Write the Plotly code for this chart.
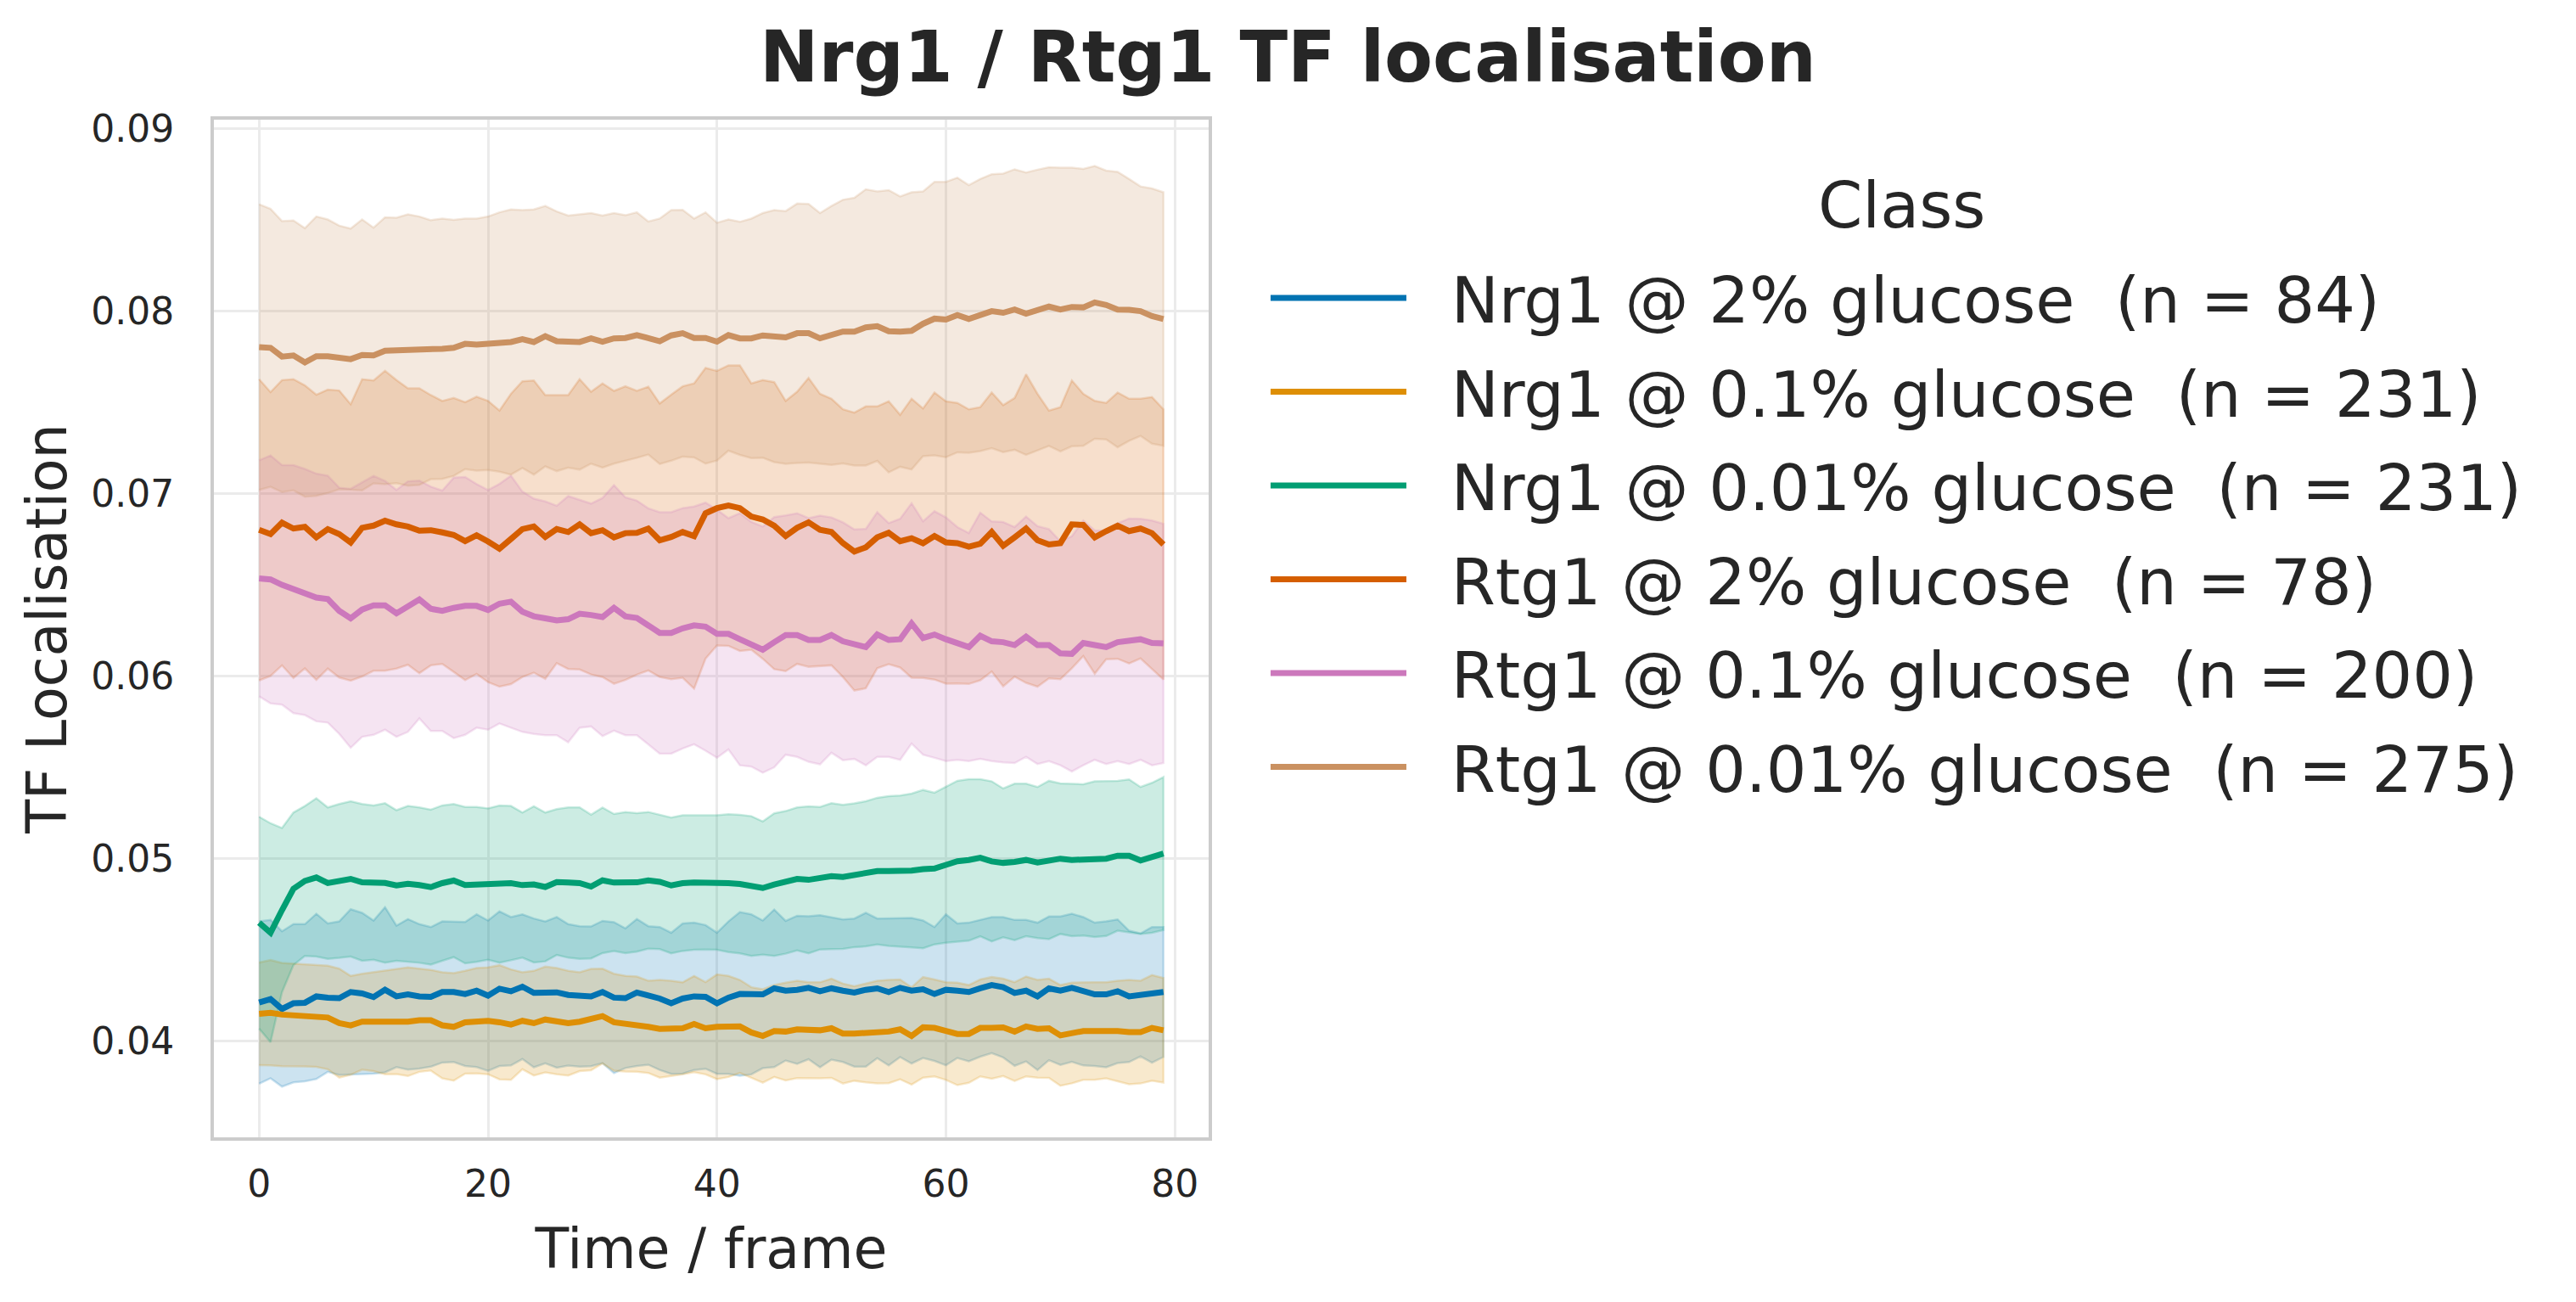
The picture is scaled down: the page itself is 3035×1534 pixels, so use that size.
import plotly.graph_objects as go

frames = list(range(80))

labels = [
    "Nrg1 @ 2% glucose\u00a0 (n = 84)",
    "Nrg1 @ 0.1% glucose\u00a0 (n = 231)",
    "Nrg1 @ 0.01% glucose\u00a0 (n = 231)",
    "Rtg1 @ 2% glucose\u00a0 (n = 78)",
    "Rtg1 @ 0.1% glucose\u00a0 (n = 200)",
    "Rtg1 @ 0.01% glucose\u00a0 (n = 275)",
]
legend_title = "Class"
colors = [(1, 115, 178), (222, 143, 5), (2, 158, 115), (213, 94, 0), (204, 120, 188), (202, 145, 97)]

# ---- Nrg1 @ 2% glucose (mean and upper edge of the +/- sd band)
nrg1_2_mean = [0.04209, 0.04228, 0.04174, 0.04205, 0.04208, 0.04243, 0.04236, 0.04233, 0.04267, 0.04259,
               0.04239, 0.04279, 0.04243, 0.04254, 0.04243, 0.04240, 0.04267, 0.04267, 0.04256, 0.04274,
               0.04247, 0.04285, 0.04271, 0.04296, 0.04262, 0.04265, 0.04265, 0.04251, 0.04243, 0.04243,
               0.04267, 0.04236, 0.04233, 0.04264, 0.04248, 0.04231, 0.04205, 0.04231, 0.04243, 0.04240,
               0.04205, 0.04236, 0.04256, 0.04254, 0.04254, 0.04287, 0.04274, 0.04279, 0.04290, 0.04271,
               0.04287, 0.04274, 0.04264, 0.04279, 0.04287, 0.04267, 0.04290, 0.04274, 0.04282, 0.04256,
               0.04279, 0.04274, 0.04267, 0.04287, 0.04305, 0.04293, 0.04262, 0.04274, 0.04243, 0.04287,
               0.04274, 0.04290, 0.04271, 0.04254, 0.04254, 0.04271, 0.04243, 0.04251, 0.04251, 0.04267]
nrg1_2_upper = [0.04654, 0.04662, 0.04600, 0.04639, 0.04639, 0.04696, 0.04643, 0.04654, 0.04721, 0.04701,
                0.04659, 0.04732, 0.04631, 0.04667, 0.04639, 0.04623, 0.04654, 0.04651, 0.04651, 0.04693,
                0.04659, 0.04709, 0.04678, 0.04693, 0.04670, 0.04654, 0.04678, 0.04639, 0.04628, 0.04626,
                0.04657, 0.04650, 0.04616, 0.04667, 0.04628, 0.04623, 0.04592, 0.04643, 0.04647, 0.04634,
                0.04592, 0.04654, 0.04705, 0.04693, 0.04659, 0.04719, 0.04657, 0.04685, 0.04682, 0.04688,
                0.04678, 0.04665, 0.04670, 0.04701, 0.04670, 0.04670, 0.04670, 0.04673, 0.04659, 0.04623,
                0.04693, 0.04643, 0.04647, 0.04662, 0.04678, 0.04678, 0.04662, 0.04662, 0.04647, 0.04681,
                0.04681, 0.04696, 0.04678, 0.04647, 0.04654, 0.04665, 0.04603, 0.04588, 0.04623, 0.04623]

# ---- Nrg1 @ 0.1% glucose
nrg1_01_mean = [0.04147, 0.04153, 0.04143, 0.04140, 0.04138, 0.04135, 0.04127, 0.04096, 0.04084, 0.04104,
                0.04104, 0.04101, 0.04104, 0.04104, 0.04112, 0.04112, 0.04084, 0.04076, 0.04101, 0.04109,
                0.04109, 0.04101, 0.04088, 0.04109, 0.04096, 0.04116, 0.04107, 0.04096, 0.04104, 0.04116,
                0.04135, 0.04101, 0.04093, 0.04091, 0.04076, 0.04065, 0.04068, 0.04068, 0.04091, 0.04068,
                0.04076, 0.04078, 0.04078, 0.04045, 0.04026, 0.04053, 0.04050, 0.04062, 0.04057, 0.04057,
                0.04068, 0.04039, 0.04039, 0.04042, 0.04047, 0.04050, 0.04062, 0.04026, 0.04073, 0.04070,
                0.04053, 0.04037, 0.04037, 0.04070, 0.04070, 0.04073, 0.04050, 0.04078, 0.04065, 0.04068,
                0.04029, 0.04042, 0.04053, 0.04053, 0.04057, 0.04053, 0.04047, 0.04047, 0.04070, 0.04057]
nrg1_01_upper = [0.04429, 0.04442, 0.04426, 0.04422, 0.04417, 0.04414, 0.04411, 0.04395, 0.04355, 0.04367,
                 0.04375, 0.04386, 0.04391, 0.04402, 0.04395, 0.04388, 0.04375, 0.04371, 0.04383, 0.04398,
                 0.04402, 0.04414, 0.04391, 0.04375, 0.04383, 0.04406, 0.04398, 0.04383, 0.04375, 0.04394,
                 0.04395, 0.04367, 0.04355, 0.04352, 0.04329, 0.04333, 0.04329, 0.04320, 0.04355, 0.04321,
                 0.04363, 0.04355, 0.04333, 0.04293, 0.04282, 0.04305, 0.04318, 0.04329, 0.04320, 0.04320,
                 0.04340, 0.04313, 0.04298, 0.04313, 0.04329, 0.04333, 0.04336, 0.04293, 0.04349, 0.04336,
                 0.04321, 0.04318, 0.04305, 0.04336, 0.04349, 0.04340, 0.04321, 0.04352, 0.04333, 0.04340,
                 0.04305, 0.04318, 0.04321, 0.04321, 0.04321, 0.04329, 0.04333, 0.04329, 0.04360, 0.04344]

# ---- Nrg1 @ 0.01% glucose
nrg1_001_mean = [0.04647, 0.04592, 0.04716, 0.04833, 0.04876, 0.04895, 0.04864, 0.04876, 0.04887, 0.04868,
                 0.04867, 0.04865, 0.04851, 0.04860, 0.04853, 0.04842, 0.04864, 0.04878, 0.04853, 0.04857,
                 0.04859, 0.04859, 0.04864, 0.04853, 0.04857, 0.04843, 0.04870, 0.04867, 0.04864, 0.04845,
                 0.04879, 0.04867, 0.04867, 0.04868, 0.04879, 0.04871, 0.04851, 0.04864, 0.04867, 0.04868,
                 0.04867, 0.04864, 0.04859, 0.04848, 0.04837, 0.04856, 0.04868, 0.04887, 0.04882, 0.04891,
                 0.04902, 0.04898, 0.04907, 0.04915, 0.04930, 0.04930, 0.04930, 0.04933, 0.04941, 0.04944,
                 0.04964, 0.04984, 0.04991, 0.05003, 0.04983, 0.04975, 0.04980, 0.04991, 0.04977, 0.04991,
                 0.04998, 0.04991, 0.04991, 0.04995, 0.04998, 0.05014, 0.05014, 0.04988, 0.05003, 0.05026]
nrg1_001_upper = [0.05228, 0.05192, 0.05166, 0.05251, 0.05287, 0.05329, 0.05279, 0.05298, 0.05313, 0.05298,
                  0.05290, 0.05302, 0.05264, 0.05287, 0.05279, 0.05267, 0.05290, 0.05298, 0.05282, 0.05282,
                  0.05274, 0.05290, 0.05287, 0.05251, 0.05285, 0.05251, 0.05270, 0.05279, 0.05279, 0.05239,
                  0.05278, 0.05243, 0.05254, 0.05248, 0.05254, 0.05240, 0.05223, 0.05236, 0.05236, 0.05236,
                  0.05236, 0.05242, 0.05239, 0.05231, 0.05202, 0.05247, 0.05259, 0.05279, 0.05285, 0.05282,
                  0.05302, 0.05293, 0.05301, 0.05313, 0.05332, 0.05341, 0.05344, 0.05355, 0.05375, 0.05360,
                  0.05391, 0.05425, 0.05434, 0.05434, 0.05422, 0.05383, 0.05409, 0.05409, 0.05391, 0.05425,
                  0.05411, 0.05409, 0.05406, 0.05422, 0.05422, 0.05425, 0.05433, 0.05391, 0.05414, 0.05445]

# ---- Rtg1 @ 2% glucose
rtg1_2_mean = [0.06801, 0.06778, 0.06840, 0.06808, 0.06817, 0.06760, 0.06805, 0.06778, 0.06732, 0.06812,
               0.06824, 0.06851, 0.06831, 0.06819, 0.06796, 0.06799, 0.06787, 0.06773, 0.06739, 0.06771,
               0.06737, 0.06698, 0.06751, 0.06805, 0.06819, 0.06762, 0.06805, 0.06789, 0.06831, 0.06783,
               0.06799, 0.06760, 0.06783, 0.06785, 0.06808, 0.06744, 0.06762, 0.06789, 0.06767, 0.06892,
               0.06920, 0.06934, 0.06920, 0.06874, 0.06858, 0.06824, 0.06767, 0.06812, 0.06842, 0.06801,
               0.06789, 0.06728, 0.06682, 0.06705, 0.06760, 0.06785, 0.06739, 0.06755, 0.06728, 0.06767,
               0.06732, 0.06728, 0.06709, 0.06725, 0.06789, 0.06714, 0.06760, 0.06808, 0.06744, 0.06721,
               0.06728, 0.06831, 0.06828, 0.06760, 0.06794, 0.06824, 0.06794, 0.06808, 0.06783, 0.06721]
rtg1_2_upper = [0.07627, 0.07556, 0.07622, 0.07627, 0.07593, 0.07542, 0.07570, 0.07565, 0.07490, 0.07627,
                0.07620, 0.07673, 0.07622, 0.07577, 0.07577, 0.07540, 0.07508, 0.07524, 0.07501, 0.07531,
                0.07508, 0.07455, 0.07547, 0.07616, 0.07620, 0.07540, 0.07540, 0.07540, 0.07627, 0.07558,
                0.07604, 0.07563, 0.07588, 0.07563, 0.07586, 0.07494, 0.07542, 0.07588, 0.07604, 0.07689,
                0.07673, 0.07703, 0.07703, 0.07604, 0.07622, 0.07611, 0.07508, 0.07558, 0.07634, 0.07547,
                0.07520, 0.07462, 0.07444, 0.07478, 0.07478, 0.07506, 0.07432, 0.07520, 0.07467, 0.07554,
                0.07506, 0.07497, 0.07462, 0.07474, 0.07554, 0.07485, 0.07524, 0.07654, 0.07547, 0.07455,
                0.07474, 0.07620, 0.07547, 0.07508, 0.07497, 0.07554, 0.07520, 0.07520, 0.07529, 0.07462]

# ---- Rtg1 @ 0.1% glucose (mean and lower edge of the band)
rtg1_01_mean = [0.06535, 0.06529, 0.06499, 0.06476, 0.06460, 0.06430, 0.06421, 0.06357, 0.06316, 0.06364,
                0.06387, 0.06387, 0.06343, 0.06380, 0.06419, 0.06368, 0.06357, 0.06373, 0.06384, 0.06384,
                0.06362, 0.06396, 0.06407, 0.06352, 0.06327, 0.06316, 0.06304, 0.06311, 0.06341, 0.06334,
                0.06323, 0.06373, 0.06327, 0.06318, 0.06272, 0.06236, 0.06236, 0.06261, 0.06277, 0.06270,
                0.06231, 0.06231, 0.06201, 0.06174, 0.06144, 0.06185, 0.06224, 0.06224, 0.06197, 0.06197,
                0.06224, 0.06190, 0.06174, 0.06158, 0.06227, 0.06197, 0.06201, 0.06288, 0.06208, 0.06227,
                0.06201, 0.06178, 0.06158, 0.06220, 0.06190, 0.06185, 0.06169, 0.06215, 0.06169, 0.06169,
                0.06124, 0.06121, 0.06181, 0.06169, 0.06158, 0.06185, 0.06190, 0.06201, 0.06181, 0.06178]
rtg1_01_lower = [0.05888, 0.05849, 0.05842, 0.05796, 0.05785, 0.05751, 0.05744, 0.05682, 0.05606, 0.05666,
                 0.05677, 0.05705, 0.05666, 0.05693, 0.05767, 0.05698, 0.05698, 0.05659, 0.05677, 0.05716,
                 0.05705, 0.05739, 0.05716, 0.05693, 0.05682, 0.05675, 0.05675, 0.05636, 0.05716, 0.05723,
                 0.05670, 0.05700, 0.05675, 0.05675, 0.05625, 0.05574, 0.05574, 0.05602, 0.05625, 0.05590,
                 0.05551, 0.05597, 0.05510, 0.05503, 0.05469, 0.05499, 0.05568, 0.05556, 0.05529, 0.05515,
                 0.05579, 0.05538, 0.05545, 0.05510, 0.05556, 0.05556, 0.05540, 0.05629, 0.05568, 0.05551,
                 0.05533, 0.05540, 0.05533, 0.05545, 0.05533, 0.05526, 0.05522, 0.05556, 0.05517, 0.05533,
                 0.05510, 0.05476, 0.05510, 0.05540, 0.05517, 0.05533, 0.05517, 0.05540, 0.05510, 0.05522]

# ---- Rtg1 @ 0.01% glucose
rtg1_001_mean = [0.07803, 0.07799, 0.07751, 0.07757, 0.07719, 0.07753, 0.07753, 0.07746, 0.07737, 0.07760,
                 0.07757, 0.07783, 0.07785, 0.07787, 0.07783, 0.07789, 0.07794, 0.07799, 0.07821, 0.07817,
                 0.07824, 0.07831, 0.07831, 0.07847, 0.07831, 0.07863, 0.07835, 0.07833, 0.07831, 0.07851,
                 0.07833, 0.07851, 0.07853, 0.07869, 0.07853, 0.07835, 0.07867, 0.07879, 0.07853, 0.07853,
                 0.07833, 0.07869, 0.07851, 0.07851, 0.07867, 0.07863, 0.07856, 0.07879, 0.07879, 0.07851,
                 0.07867, 0.07888, 0.07888, 0.07911, 0.07918, 0.07890, 0.07888, 0.07892, 0.07931, 0.07959,
                 0.07954, 0.07979, 0.07957, 0.07979, 0.08000, 0.07991, 0.08009, 0.07986, 0.08007, 0.08025,
                 0.08009, 0.08023, 0.08021, 0.08048, 0.08034, 0.08009, 0.08007, 0.08000, 0.07973, 0.07957]
rtg1_001_upper = [0.08586, 0.08561, 0.08494, 0.08497, 0.08455, 0.08519, 0.08503, 0.08469, 0.08453, 0.08503,
                  0.08458, 0.08515, 0.08513, 0.08531, 0.08519, 0.08499, 0.08508, 0.08501, 0.08508, 0.08508,
                  0.08519, 0.08542, 0.08558, 0.08554, 0.08558, 0.08577, 0.08547, 0.08524, 0.08531, 0.08538,
                  0.08524, 0.08538, 0.08526, 0.08542, 0.08492, 0.08508, 0.08554, 0.08556, 0.08508, 0.08542,
                  0.08485, 0.08503, 0.08490, 0.08508, 0.08538, 0.08554, 0.08549, 0.08590, 0.08588, 0.08538,
                  0.08577, 0.08611, 0.08622, 0.08668, 0.08657, 0.08664, 0.08629, 0.08652, 0.08657, 0.08709,
                  0.08709, 0.08732, 0.08691, 0.08725, 0.08751, 0.08755, 0.08778, 0.08760, 0.08776, 0.08789,
                  0.08787, 0.08787, 0.08780, 0.08796, 0.08771, 0.08764, 0.08725, 0.08684, 0.08673, 0.08652]

y_ticks = [0.04, 0.05, 0.06, 0.07, 0.08, 0.09]
x_ticks = [0, 20, 40, 60, 80]


# band edges: symmetric mean +/- sd band
def sym_other(mean, edge):
    return [2 * m - e for m, e in zip(mean, edge)]


means = [nrg1_2_mean, nrg1_01_mean, nrg1_001_mean, rtg1_2_mean, rtg1_01_mean, rtg1_001_mean]
uppers = [nrg1_2_upper, nrg1_01_upper, nrg1_001_upper, rtg1_2_upper,
          sym_other(rtg1_01_mean, rtg1_01_lower), rtg1_001_upper]
lowers = [sym_other(m, u) if i != 4 else rtg1_01_lower for i, (m, u) in enumerate(zip(means, uppers))]

fig = go.Figure()

for lab, c, up, lo in zip(labels, colors, uppers, lowers):
    fig.add_trace(go.Scatter(
        x=frames + frames[::-1], y=up + lo[::-1],
        fill="toself", fillcolor="rgba(%d,%d,%d,0.2)" % c,
        line=dict(color="rgba(%d,%d,%d,0.2)" % c, width=2.5),
        mode="lines", hoverinfo="skip", showlegend=False,
    ))

for i, (lab, c, m) in enumerate(zip(labels, colors, means)):
    fig.add_trace(go.Scatter(
        x=frames, y=m, mode="lines", name="\u00a0\u00a0" + lab, legendgroup="g%d" % i,
        line=dict(color="rgb(%d,%d,%d)" % c, width=7),
    ))

axis_common = dict(
    showgrid=True, gridcolor="#ebebeb", gridwidth=3,
    showline=True, mirror=True, linecolor="#cccccc", linewidth=4,
    zeroline=False, ticks="", tickfont=dict(size=44, color="#262626"),
)

fig.update_xaxes(
    range=[-3.95, 82.95], tickvals=x_ticks, ticktext=[str(v) for v in x_ticks],
    title=dict(text="Time / frame", font=dict(size=65, color="#262626"), standoff=31),
    ticklabelstandoff=13, **axis_common,
)
fig.update_yaxes(
    range=[0.0347, 0.0905], tickvals=y_ticks, ticktext=["%.2f" % v for v in y_ticks],
    title=dict(text="TF Localisation", font=dict(size=65, color="#262626"), standoff=8),
    ticklabelstandoff=34, **axis_common,
)

fig.add_annotation(
    text=legend_title, xref="paper", yref="paper", x=(2240 - 252) / 1172, y=1 - (242 - 141) / 1199,
    xanchor="center", yanchor="middle", showarrow=False, font=dict(size=75, color="#262626"),
)

fig.update_layout(
    width=3035, height=1534,
    margin=dict(l=252, r=1611, t=141, b=194),
    paper_bgcolor="white", plot_bgcolor="white",
    font=dict(family="DejaVu Sans", color="#262626"),
    title=dict(text="<b>Nrg1 / Rtg1 TF localisation</b>", x=0.5, xanchor="center",
               xref="container", y=1 - 67 / 1534, yref="container", yanchor="middle",
               font=dict(size=83, color="#262626")),
    legend=dict(
        x=1.058, y=0.871, xanchor="left", yanchor="top",
        font=dict(size=75, color="#262626"),
        itemwidth=160, tracegroupgap=10, bgcolor="rgba(0,0,0,0)", borderwidth=0,
    ),
)

fig.write_html("out.html")
